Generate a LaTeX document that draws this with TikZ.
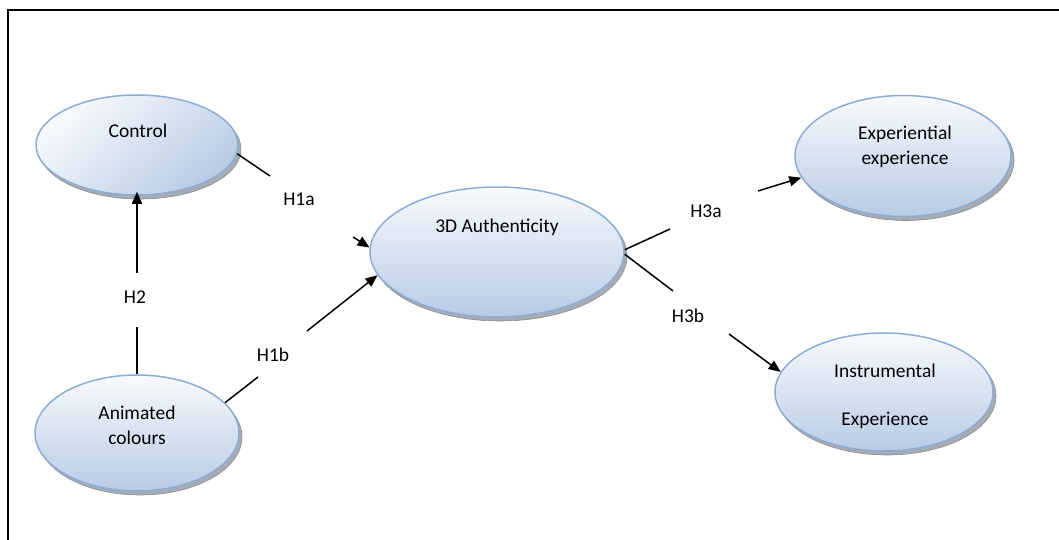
\documentclass[tikz,border=0pt]{standalone}
\usepackage{fontspec}
\setmainfont{Carlito}
\usetikzlibrary{arrows.meta,shadows,shapes.geometric}
\definecolor{ellborder}{RGB}{140,172,212}
\definecolor{elltop}{RGB}{248,250,253}
\definecolor{ellbot}{RGB}{184,203,228}
\definecolor{shadowgray}{RGB}{165,172,184}
\tikzset{
  construct/.style={ellipse, inner sep=0pt, draw=ellborder, line width=1.5pt,
    top color=elltop, bottom color=ellbot,
    general shadow={shadow xshift=3pt, shadow yshift=-4pt, fill=shadowgray, draw=black!45, line width=0.6pt}},
  ctext/.style={font=\fontsize{19.5}{25}\selectfont, align=center, inner sep=0pt},
  hyp/.style={font=\fontsize{19.5}{25}\selectfont, inner sep=0pt},
  link/.style={line width=1.5pt, black},
  arr/.style={link, -{Triangle[length=12pt,width=10pt]}},
  frame/.style={line width=2pt, black}
}
\begin{document}
\begin{tikzpicture}[x=1pt,y=-1pt]
\useasboundingbox (0,0) rectangle (1059,540);
% frame (open at right and bottom)
\coordinate (fr1) at (1059,10);
\coordinate (fr2) at (8,10);
\coordinate (fr3) at (8,540);
\draw[frame] (fr1) -- (fr2) -- (fr3);

% constructs
\node[construct, minimum width=202pt, minimum height=100pt, shading angle=40] (ctrl) at (137,145) {};
\node[construct, minimum width=254pt, minimum height=130pt] (auth) at (497,252) {};
\node[construct, minimum width=204pt, minimum height=116pt] (anim) at (137,433) {};
\node[construct, minimum width=216pt, minimum height=121pt] (exper) at (903,156) {};
\node[construct, minimum width=218pt, minimum height=118pt] (instr) at (884,392) {};

% texts
\node[ctext] (ctrlt) at (138,131) {Control};
\node[ctext] (autht) at (497,227) {3D Authenticity};
\node[ctext] (animt) at (137,425) {Animated\\colours};
\node[ctext] (expert) at (905,147) {Experiential\\experience};
\node[ctext] (instrt) at (885,396) {Instrumental\\[23pt]Experience};

% hypothesis labels
\node[hyp] (h1a) at (299,199) {H1a};
\node[hyp] (h2) at (135,297) {H2};
\node[hyp] (h1b) at (273,355) {H1b};
\node[hyp] (h3a) at (706,211) {H3a};
\node[hyp] (h3b) at (688,316) {H3b};

% break points of connectors
\coordinate (c1a) at (270,176);
\coordinate (c1b) at (353,237);
\coordinate (c2a) at (258,377);
\coordinate (c2b) at (307,331);
\coordinate (c3a) at (137,327);
\coordinate (c3b) at (137,273);
\coordinate (c4a) at (670,229);
\coordinate (c4b) at (758,191);
\coordinate (c5a) at (673,291);
\coordinate (c5b) at (729,334);

% connectors
\draw[link] (ctrl.-5) -- (c1a);
\draw[arr] (c1b) -- (auth.178);
\draw[link] (anim.19) -- (c2a);
\draw[arr] (c2b) -- (auth.191);
\draw[link] (anim.north) -- (c3a);
\draw[arr, shorten >=-4pt] (c3b) -- (ctrl.south);
\draw[link] (auth.1.5) -- (c4a);
\draw[arr] (c4b) -- (exper.192);
\draw[link] (auth.-1.5) -- (c5a);
\draw[arr] (c5b) -- (instr.169.5);
\end{tikzpicture}
\end{document}
